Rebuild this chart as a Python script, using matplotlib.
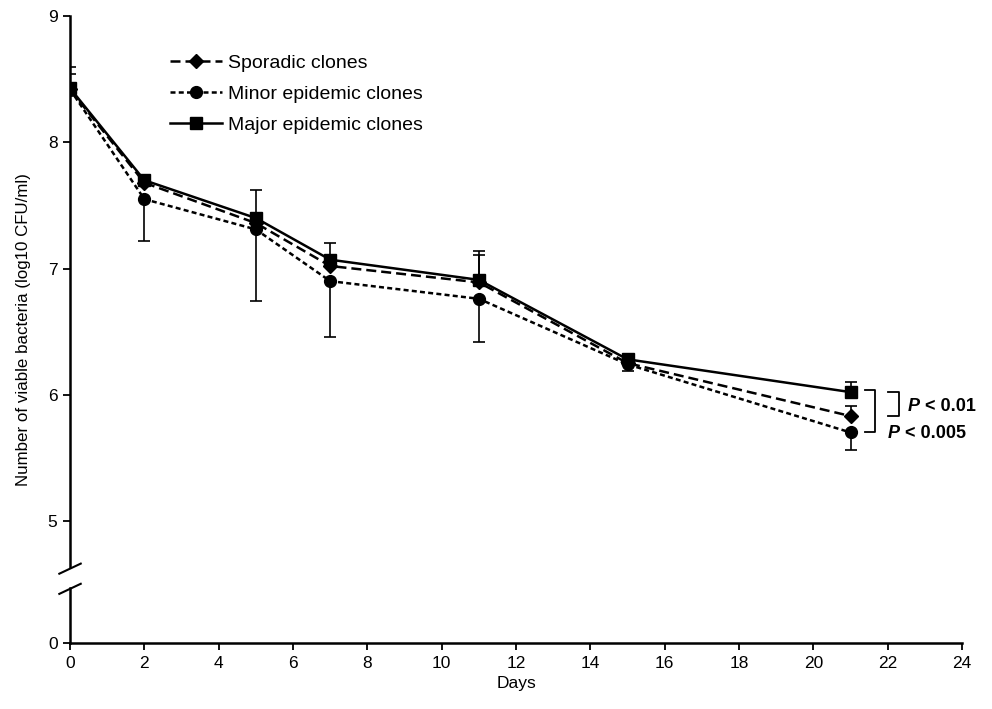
import numpy as np
import matplotlib.pyplot as plt

plt.rcParams['font.family'] = ['Liberation Sans', 'DejaVu Sans']

days = [0, 2, 5, 7, 11, 15, 21]

sporadic = [8.42, 7.68, 7.36, 7.02, 6.89, 6.25, 5.83]
minor = [8.42, 7.55, 7.31, 6.90, 6.76, 6.24, 5.70]
major = [8.43, 7.70, 7.40, 7.07, 6.91, 6.28, 6.02]

# one-sided error bars as drawn in the figure
sporadic_up = [0.12, 0.02, 0.03, 0.03, 0.22, 0.02, 0.08]
minor_down = [0.05, 0.33, 0.57, 0.44, 0.34, 0.05, 0.14]
major_up = [0.17, 0.02, 0.22, 0.13, 0.23, 0.03, 0.08]

ytick_vals = [5, 6, 7, 8, 9]
ybottom = 4.03  # where the "0" tick sits after the axis break

fig = plt.figure(figsize=(9.92, 7.09), dpi=100)
ax = fig.add_axes([0.0706, 0.093, 0.8992, 0.884])

lw = 1.8
ax.errorbar(days, major, yerr=[np.zeros(7), major_up], fmt='none', ecolor='black',
            elinewidth=1.2, capsize=4, capthick=1.2)
ax.errorbar(days, sporadic, yerr=[np.zeros(7), sporadic_up], fmt='none', ecolor='black',
            elinewidth=1.2, capsize=4, capthick=1.2)
ax.errorbar(days, minor, yerr=[minor_down, np.zeros(7)], fmt='none', ecolor='black',
            elinewidth=1.2, capsize=4, capthick=1.2)

ax.plot(days, sporadic, color='black', lw=lw, ls=(0, (4, 2)), marker='D',
        ms=7, label='Sporadic clones')
ax.plot(days, minor, color='black', lw=lw, ls=(0, (2, 1.3)), marker='o',
        ms=8.5, label='Minor epidemic clones')
ax.plot(days, major, color='black', lw=lw, ls='-', marker='s',
        ms=8.5, label='Major epidemic clones')

ax.set_xlim(0, 24)
ax.set_ylim(ybottom, 9)
ax.set_xticks(range(0, 25, 2))
ax.set_yticks([ybottom] + ytick_vals)
ax.set_yticklabels(['0'] + [str(v) for v in ytick_vals])
ax.tick_params(direction='out', length=5, width=1.3, labelsize=12.5, pad=4)

ax.spines['top'].set_visible(False)
ax.spines['right'].set_visible(False)
ax.spines['left'].set_visible(False)
ax.spines['bottom'].set_linewidth(1.8)

# left axis drawn in two pieces with a break
ytrans = ax.get_yaxis_transform()
ax.plot([0, 0], [ybottom, 4.47], color='black', lw=1.8, transform=ytrans, clip_on=False)
ax.plot([0, 0], [4.63, 9], color='black', lw=1.8, transform=ytrans, clip_on=False)
for yb in [4.45, 4.61]:
    ax.plot([-0.012, 0.012], [yb - 0.03, yb + 0.05], color='black', lw=1.5,
            transform=ytrans, clip_on=False)

ax.set_xlabel('Days', fontsize=12.5, labelpad=4)
ax.set_ylabel('Number of viable bacteria (log10 CFU/ml)', fontsize=12.2, labelpad=12)

ax.legend(loc='upper left', bbox_to_anchor=(0.092, 0.967), frameon=False,
          fontsize=14, handlelength=2.7, handletextpad=0.3, labelspacing=0.68)

# significance brackets at day 21
bx = [21.39, 21.66]
ax.plot([bx[0], bx[1], bx[1], bx[0]], [major[-1] + 0.02, major[-1] + 0.02, minor[-1], minor[-1]],
        color='black', lw=1.3, clip_on=False)
cx = [22.0, 22.3]
ax.plot([cx[0], cx[1], cx[1], cx[0]], [major[-1], major[-1], sporadic[-1], sporadic[-1]],
        color='black', lw=1.3, clip_on=False)
for tx, ty, rest in [(22.55, 5.87, ' < 0.01'), (22.0, 5.655, ' < 0.005')]:
    p = ax.text(tx, ty, 'P', fontsize=13, fontweight='bold', fontstyle='italic',
                va='baseline', ha='left')
    ax.annotate(rest, xy=(1, 0), xycoords=p, fontsize=13, fontweight='bold',
                va='bottom', ha='left')

fig.savefig('out.png', dpi=100)
